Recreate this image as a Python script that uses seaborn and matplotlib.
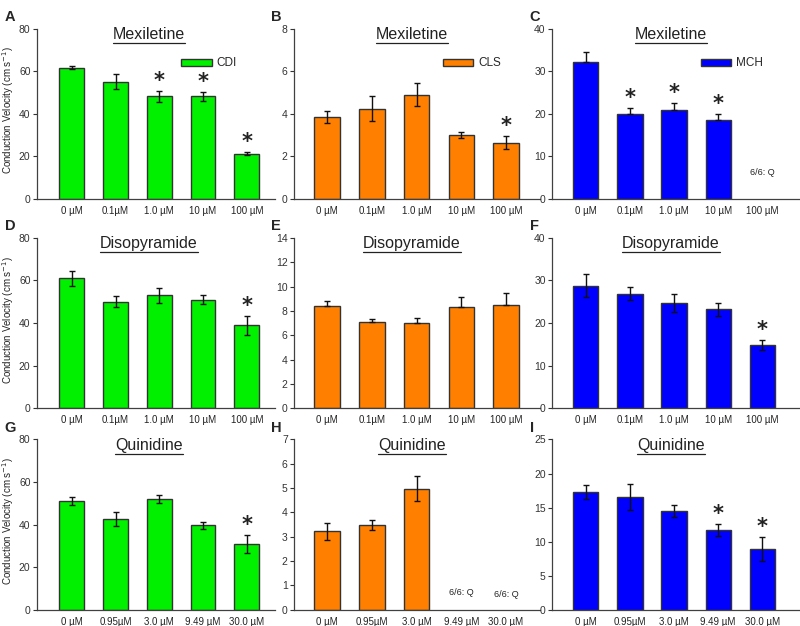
import seaborn as sns
import pandas as pd
import numpy as np
import matplotlib.pyplot as plt
from matplotlib.lines import Line2D

sns.set_style('ticks')
plt.rcParams['font.family'] = ['Liberation Sans', 'DejaVu Sans']

# concentrations (tick labels)
conc_mex = ['0 µM', '0.1µM', '1.0 µM', '10 µM', '100 µM']
conc_quin = ['0 µM', '0.95µM', '3.0 µM', '9.49 µM', '30.0 µM']

# Mexiletine
mex_cdi = [61.8, 55.2, 48.2, 48.2, 21.3]
mex_cdi_err = [0.9, 3.5, 2.6, 1.9, 0.6]
mex_cdi_sig = [0, 0, 1, 1, 1]
mex_cls = [3.85, 4.25, 4.9, 3.0, 2.65]
mex_cls_err = [0.27, 0.6, 0.55, 0.15, 0.3]
mex_cls_sig = [0, 0, 0, 0, 1]
mex_mch = [32.3, 20.0, 21.0, 18.5, np.nan]
mex_mch_err = [2.2, 1.5, 1.5, 1.5, np.nan]
mex_mch_sig = [0, 1, 1, 1, 0]

# Disopyramide
dis_cdi = [61.0, 50.0, 53.0, 51.0, 39.0]
dis_cdi_err = [3.5, 2.5, 3.5, 2.0, 4.5]
dis_cdi_sig = [0, 0, 0, 0, 1]
dis_cls = [8.4, 7.05, 7.0, 8.35, 8.5]
dis_cls_err = [0.45, 0.25, 0.45, 0.8, 1.0]
dis_cls_sig = [0, 0, 0, 0, 0]
dis_mch = [28.8, 26.9, 24.8, 23.2, 14.9]
dis_mch_err = [2.7, 1.6, 2.1, 1.5, 1.2]
dis_mch_sig = [0, 0, 0, 0, 1]

# Quinidine
quin_cdi = [51.0, 42.7, 52.1, 39.6, 30.9]
quin_cdi_err = [1.8, 3.2, 1.8, 1.8, 4.4]
quin_cdi_sig = [0, 0, 0, 0, 1]
quin_cls = [3.22, 3.48, 4.97, np.nan, np.nan]
quin_cls_err = [0.35, 0.22, 0.52, np.nan, np.nan]
quin_cls_sig = [0, 0, 0, 0, 0]
quin_mch = [17.3, 16.5, 14.5, 11.7, 8.9]
quin_mch_err = [1.0, 1.9, 0.9, 0.9, 1.8]
quin_mch_sig = [0, 0, 0, 1, 1]

colors = {'CDI': '#00F000', 'CLS': '#FF8000', 'MCH': '#0000FF'}

panels = [
    ('A', 'Mexiletine', 'CDI', conc_mex, mex_cdi, mex_cdi_err, mex_cdi_sig, 80, 20, True, False),
    ('B', 'Mexiletine', 'CLS', conc_mex, mex_cls, mex_cls_err, mex_cls_sig, 8, 2, True, False),
    ('C', 'Mexiletine', 'MCH', conc_mex, mex_mch, mex_mch_err, mex_mch_sig, 40, 10, True, True),
    ('D', 'Disopyramide', 'CDI', conc_mex, dis_cdi, dis_cdi_err, dis_cdi_sig, 80, 20, False, False),
    ('E', 'Disopyramide', 'CLS', conc_mex, dis_cls, dis_cls_err, dis_cls_sig, 14, 2, False, True),
    ('F', 'Disopyramide', 'MCH', conc_mex, dis_mch, dis_mch_err, dis_mch_sig, 40, 10, False, False),
    ('G', 'Quinidine', 'CDI', conc_quin, quin_cdi, quin_cdi_err, quin_cdi_sig, 80, 20, False, False),
    ('H', 'Quinidine', 'CLS', conc_quin, quin_cls, quin_cls_err, quin_cls_sig, 7, 1, False, False),
    ('I', 'Quinidine', 'MCH', conc_quin, quin_mch, quin_mch_err, quin_mch_sig, 25, 5, False, False),
]

# quiescent notes: (panel, category index, y value)
q_notes = [('C', 4, 6.3), ('H', 3, 0.72), ('H', 4, 0.62)]

fig = plt.figure(figsize=(8, 6.26), dpi=100)
lefts = [0.046, 0.3675, 0.690]
widths = [0.298, 0.3075, 0.31]
xlims = [(-0.8, 4.65), (-0.74, 4.76), (-0.77, 4.86)]
letter_x = [0.006, 0.339, 0.662]
bottoms = [0.682, 0.348, 0.026]
height = 0.272

grey = '#404040'
titles = []
for k, (letter, drug, cell, cats, vals, errs, sig, ymax, step, legend, upper_only) in enumerate(panels):
    r, c = divmod(k, 3)
    ax = fig.add_axes([lefts[c], bottoms[r], widths[c], height])
    df = pd.DataFrame({'conc': cats, 'cv': vals, 'cell': cell})
    sns.barplot(data=df, x='conc', y='cv', hue='cell', order=cats,
                palette=colors, saturation=1, errorbar=None, width=0.57,
                edgecolor='#333333', linewidth=1, ax=ax, legend=legend)
    v = np.array(vals, dtype=float)
    e = np.array(errs, dtype=float)
    lower = np.zeros_like(e) if upper_only else e
    ax.errorbar(np.arange(len(cats)), v, yerr=[lower, e], fmt='none',
                ecolor='#111111', elinewidth=1, capsize=2.5, capthick=1)
    for i, s in enumerate(sig):
        if s:
            ax.text(i, v[i] + e[i], '*', ha='center', va='bottom',
                    fontsize=15, fontweight='bold', color='#222222', family='DejaVu Sans')
    for (pl, idx, yv) in q_notes:
        if pl == letter:
            ax.text(idx, yv, '6/6: Q', ha='center', va='center', fontsize=6.5, color='#222222')
    ax.set_ylim(0, ymax)
    ax.set_yticks(np.arange(0, ymax + step / 2, step))
    ax.set_xlim(*xlims[c])
    ax.set_xlabel('')
    if c == 0:
        ax.set_ylabel('Conduction Velocity (cm s$^{-1}$)', fontsize=7, color='#222222')
        ax.yaxis.set_label_coords(-0.088, 0.52)
    else:
        ax.set_ylabel('')
    ax.tick_params(axis='x', length=0, labelsize=7, colors='#222222', pad=5)
    ax.tick_params(axis='y', length=3, labelsize=7.5, colors='#333333', width=0.8, pad=1.5)
    for sp in ['top', 'right']:
        ax.spines[sp].set_visible(False)
    for sp in ['left', 'bottom']:
        ax.spines[sp].set_color(grey)
        ax.spines[sp].set_linewidth(0.9)
    t = ax.text(0.47 if c == 0 else 0.48, 1.01, drug, transform=ax.transAxes, ha='center', va='top',
                fontsize=11.5, color='#222222')
    titles.append(t)
    if legend:
        ax.legend(loc='upper right', bbox_to_anchor=(0.86 if c < 2 else 0.87, 0.86),
                  frameon=False, fontsize=8.5, handlelength=2.6, handleheight=0.55,
                  handletextpad=0.4, borderaxespad=0)
    fig.text(letter_x[c], bottoms[r] + height + 0.03,
             letter, fontsize=10.5, fontweight='bold', ha='left', va='top')

# underline the drug titles
fig.canvas.draw()
inv = fig.transFigure.inverted()
for t in titles:
    bb = t.get_window_extent().transformed(inv)
    fig.add_artist(Line2D([bb.x0, bb.x1], [bb.y0 - 0.002, bb.y0 - 0.002],
                          color='#222222', linewidth=0.9, transform=fig.transFigure))

plt.savefig('out.png', dpi=100)
